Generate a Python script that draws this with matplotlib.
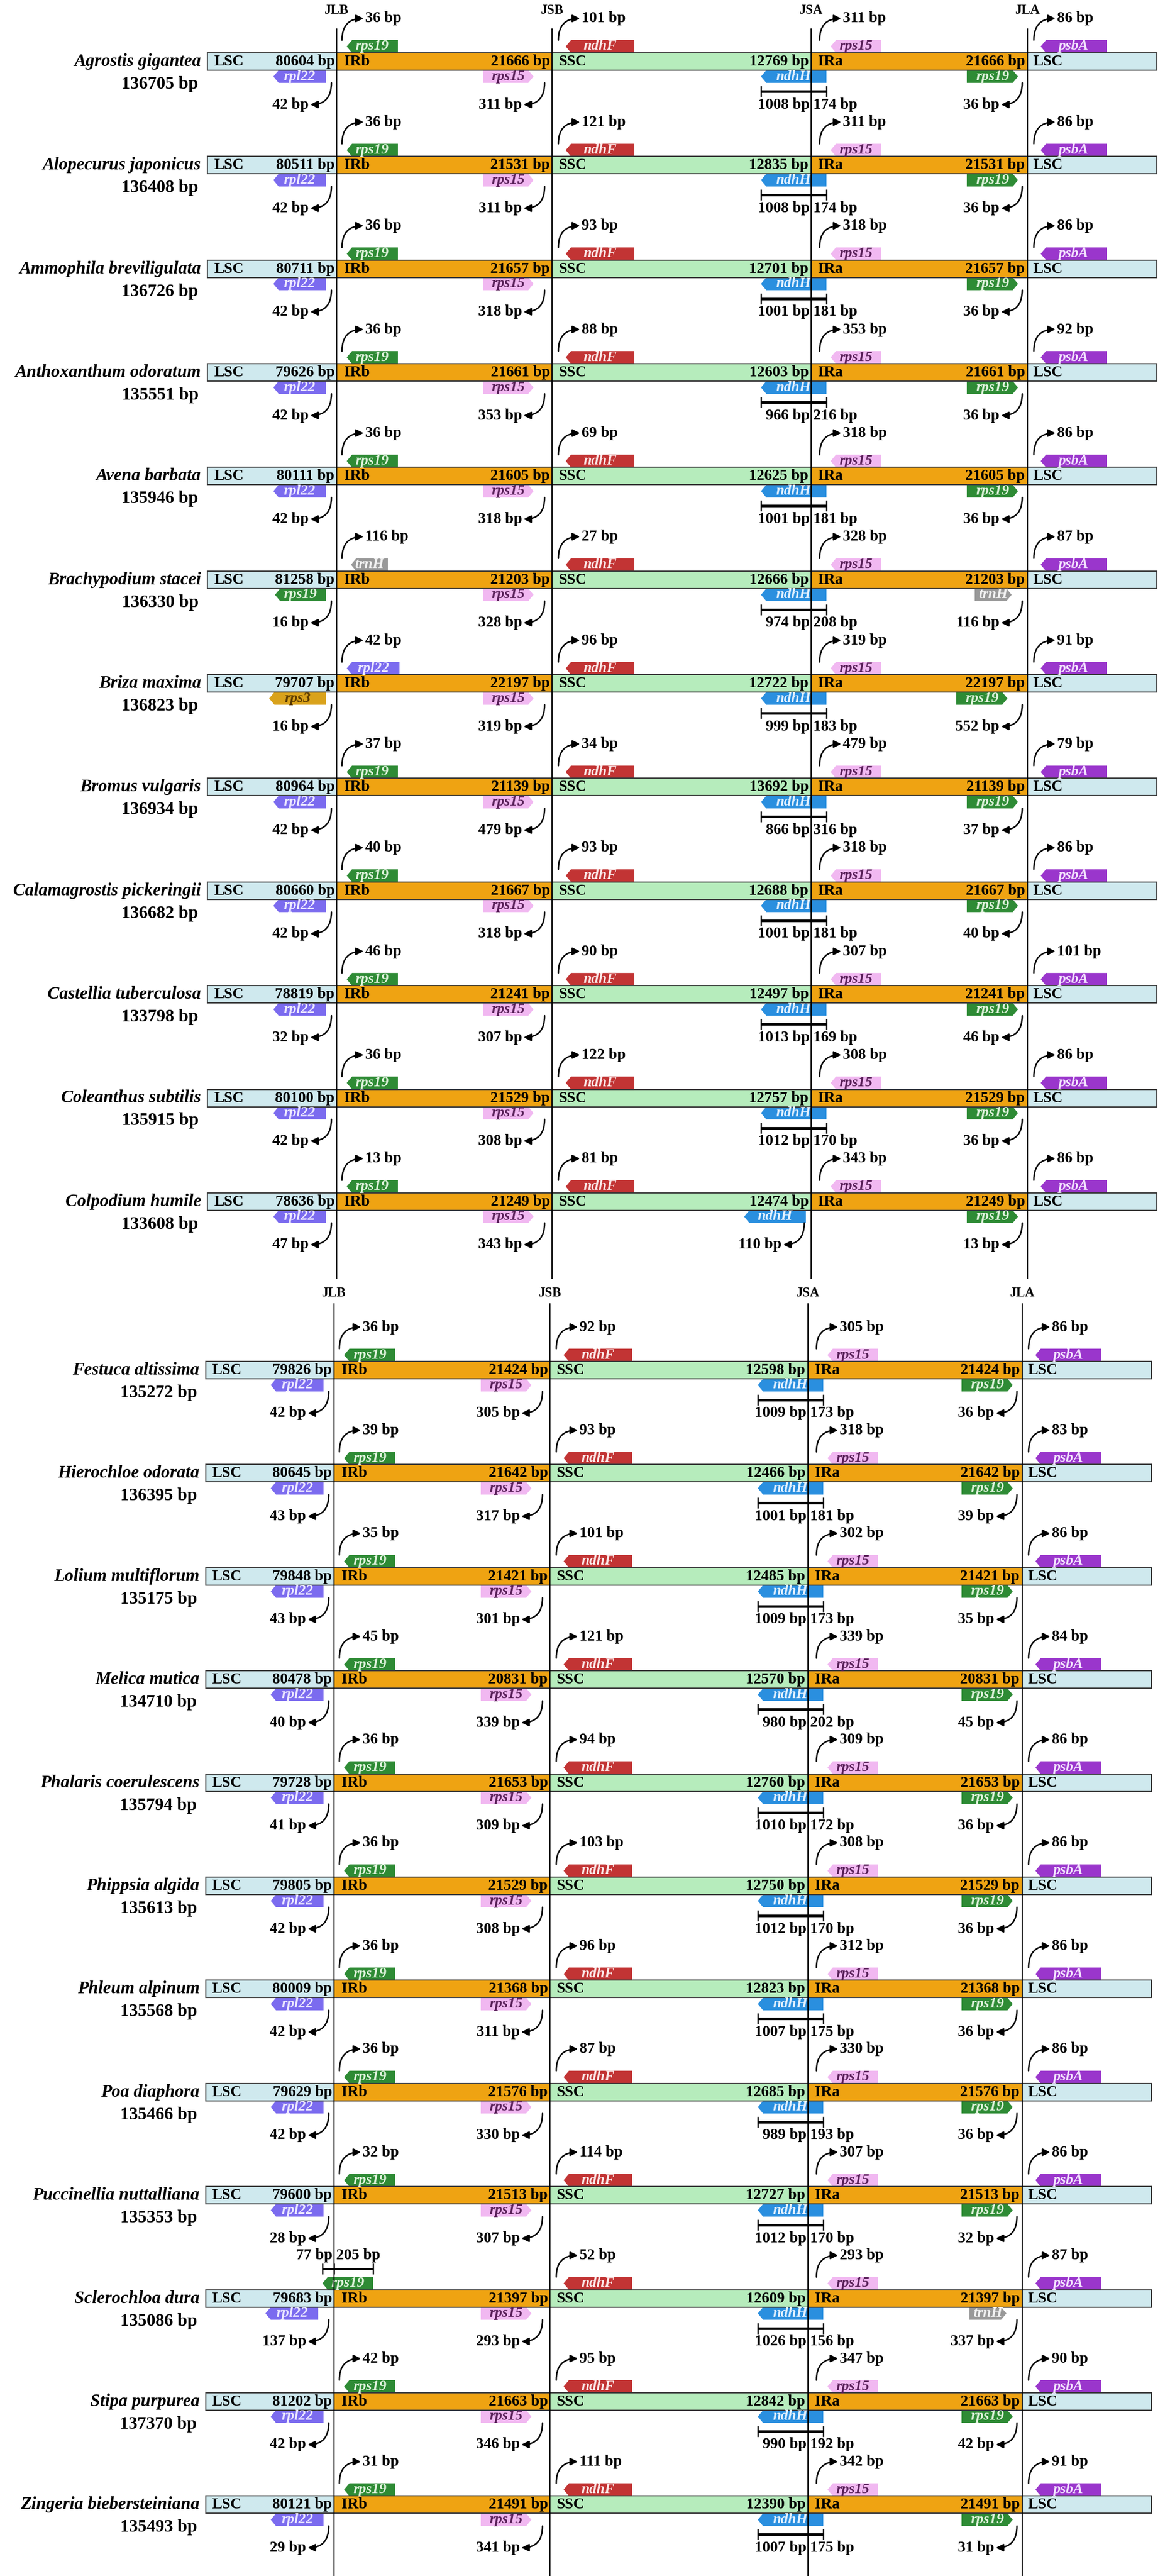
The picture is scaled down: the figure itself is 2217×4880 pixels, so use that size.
import matplotlib
matplotlib.use('Agg')
import matplotlib.pyplot as plt
from matplotlib.patches import Rectangle, Polygon, FancyArrowPatch

# ---------------- data ----------------
species = ["Agrostis gigantea", "Alopecurus japonicus", "Ammophila breviligulata",
           "Anthoxanthum odoratum", "Avena barbata", "Brachypodium stacei",
           "Briza maxima", "Bromus vulgaris", "Calamagrostis pickeringii",
           "Castellia tuberculosa", "Coleanthus subtilis", "Colpodium humile",
           "Festuca altissima", "Hierochloe odorata", "Lolium multiflorum",
           "Melica mutica", "Phalaris coerulescens", "Phippsia algida",
           "Phleum alpinum", "Poa diaphora", "Puccinellia nuttalliana",
           "Sclerochloa dura", "Stipa purpurea", "Zingeria biebersteiniana"]
genome_bp = [136705, 136408, 136726, 135551, 135946, 136330, 136823, 136934, 136682,
             133798, 135915, 133608, 135272, 136395, 135175, 134710, 135794, 135613,
             135568, 135466, 135353, 135086, 137370, 135493]
lsc_bp = [80604, 80511, 80711, 79626, 80111, 81258, 79707, 80964, 80660, 78819, 80100,
          78636, 79826, 80645, 79848, 80478, 79728, 79805, 80009, 79629, 79600, 79683,
          81202, 80121]
ir_bp = [21666, 21531, 21657, 21661, 21605, 21203, 22197, 21139, 21667, 21241, 21529,
         21249, 21424, 21642, 21421, 20831, 21653, 21529, 21368, 21576, 21513, 21397,
         21663, 21491]
ssc_bp = [12769, 12835, 12701, 12603, 12625, 12666, 12722, 13692, 12688, 12497, 12757,
          12474, 12598, 12466, 12485, 12570, 12760, 12750, 12823, 12685, 12727, 12609,
          12842, 12390]

# genes at JLB (above = IRb side, below = LSC side)
jlb_up_gene = ["rps19"] * 24
jlb_up_gene[5] = "trnH"
jlb_up_gene[6] = "rpl22"
jlb_up_bp = [36, 36, 36, 36, 36, 116, 42, 37, 40, 46, 36, 13, 36, 39, 35, 45, 36, 36,
             36, 36, 32, None, 42, 31]
jlb_up_span = {"Sclerochloa dura": (77, 205)}
jlb_dn_gene = ["rpl22"] * 24
jlb_dn_gene[5] = "rps19"
jlb_dn_gene[6] = "rps3"
jlb_dn_bp = [42, 42, 42, 42, 42, 16, 16, 42, 42, 32, 42, 47, 42, 43, 43, 40, 41, 42,
             42, 42, 28, 137, 42, 29]
# JSB: rps15 (below, IRb) and ndhF (above, SSC)
jsb_rps15_bp = [311, 311, 318, 353, 318, 328, 319, 479, 318, 307, 308, 343, 305, 317,
                301, 339, 309, 308, 311, 330, 307, 293, 346, 341]
jsb_ndhF_bp = [101, 121, 93, 88, 69, 27, 96, 34, 93, 90, 122, 81, 92, 93, 101, 121, 94,
               103, 96, 87, 114, 52, 95, 111]
# JSA: ndhH (below) split SSC / IRa, rps15 (above, IRa)
jsa_ndhH_ssc_bp = [1008, 1008, 1001, 966, 1001, 974, 999, 866, 1001, 1013, 1012, 110,
                   1009, 1001, 1009, 980, 1010, 1012, 1007, 989, 1012, 1026, 990, 1007]
jsa_ndhH_ir_bp = [174, 174, 181, 216, 181, 208, 183, 316, 181, 169, 170, None, 173, 181,
                  173, 202, 172, 170, 175, 193, 170, 156, 192, 175]
jsa_rps15_bp = [311, 311, 318, 353, 318, 328, 319, 479, 318, 307, 308, 343, 305, 318,
                302, 339, 309, 308, 312, 330, 307, 293, 347, 342]
# JLA: gene below (IRa side) and psbA above (LSC side)
jla_dn_gene = ["rps19"] * 24
jla_dn_gene[5] = "trnH"
jla_dn_gene[21] = "trnH"
jla_dn_bp = [36, 36, 36, 36, 36, 116, 552, 37, 40, 46, 36, 13, 36, 39, 35, 45, 36, 36,
             36, 36, 32, 337, 42, 31]
jla_psbA_bp = [86, 86, 86, 92, 86, 87, 91, 79, 86, 101, 86, 86, 86, 83, 86, 84, 86, 86,
               86, 86, 86, 87, 90, 91]
junction_names = ["JLB", "JSB", "JSA", "JLA"]

# ---------------- style ----------------
FONT = "Liberation Serif"
plt.rcParams['font.family'] = [FONT, 'DejaVu Serif']
plt.rcParams['font.weight'] = 'bold'

C_LSC = "#cfe9ee"
C_IR = "#efa312"
C_SSC = "#b6ecbc"
GENE_COL = {"rps19": ("#2e8b35", "#dff2dc"), "rpl22": ("#7b6bef", "#ece8ff"),
            "rps15": ("#f1b8f1", "#5a215a"), "ndhF": ("#c23434", "#fbe8e8"),
            "ndhH": ("#2a8fdf", "#e3f1ff"), "psbA": ("#9a36cc", "#f3e2ff"),
            "trnH": ("#999999", "#f2f2f2"), "rps3": ("#d9a21b", "#5a3a00")}
GENE_W = {"rps19": 97, "rpl22": 100, "trnH": 70, "rps3": 108}

FS_BAR = 21
FS_ANN = 21
FS_NAME = 24
FS_GENE = 20
FS_J = 18
BAR_H = 33
GH = 24

panels = [
    dict(rows=range(0, 12), y0=116.5, dy=196.35, J=[638, 1046, 1537, 1947],
         xl=393, xr=2192, ylab=20, ly0=55, ly1=2422),
    dict(rows=range(12, 24), y0=2595.5, dy=195.4, J=[633, 1042, 1531, 1937],
         xl=390, xr=2182, ylab=2449, ly0=2470, ly1=4880),
]

W, H = 2217, 4880
fig = plt.figure(figsize=(W / 100, H / 100), dpi=100)
ax = fig.add_axes([0, 0, 1, 1])
ax.set_xlim(0, W)
ax.set_ylim(H, 0)
ax.axis('off')


def txt(x, y, s, ha='left', fs=FS_ANN, **kw):
    ax.text(x, y, s, ha=ha, va='center', fontsize=fs, fontweight='bold',
            color=kw.pop('color', 'black'), zorder=kw.pop('zorder', 6), **kw)


def gene(x0, x1, y0, y1, name, point):
    fc, tc = GENE_COL[name]
    d = 10
    ym = (y0 + y1) / 2
    if point == 'L':
        v = [(x0, ym), (x0 + d, y0), (x1, y0), (x1, y1), (x0 + d, y1)]
    else:
        v = [(x0, y0), (x1 - d, y0), (x1, ym), (x1 - d, y1), (x0, y1)]
    ax.add_patch(Polygon(v, closed=True, fc=fc, ec='none', zorder=3))
    ax.text((x0 + x1) / 2, ym, name, ha='center', va='center', fontsize=FS_GENE,
            style='italic', fontweight='bold', color=tc, zorder=4)


def curve(p0, p1):
    a = FancyArrowPatch(p0, p1, connectionstyle="angle3,angleA=90,angleB=0",
                        arrowstyle="-|>,head_length=0.7,head_width=0.35",
                        mutation_scale=12, lw=2.0, color='black',
                        shrinkA=0, shrinkB=0, zorder=6)
    ax.add_patch(a)


def ann_up(J, top, bp):
    curve((J + 10, top - 24), (J + 51, top - 65))
    txt(J + 54, top - 65, f"{bp} bp", 'left')


def ann_dn(J, bot, bp):
    curve((J - 10, bot + 24), (J - 50, bot + 65))
    txt(J - 53, bot + 65, f"{bp} bp", 'right')


def span(xl, J, xr, y, ty, bl, br, thick=3.5):
    ax.plot([xl, xr], [y, y], color='black', lw=thick, solid_capstyle='butt', zorder=6)
    for x in (xl, J, xr):
        ax.plot([x, x], [y - 9, y + 9], color='black', lw=1.8, zorder=6)
    txt(J - 3, ty, f"{bl} bp", 'right')
    txt(J + 4, ty, f"{br} bp", 'left')


for P in panels:
    JLB, JSB, JSA, JLA = P['J']
    xl, xr = P['xl'], P['xr']
    for jx, jn in zip(P['J'], junction_names):
        ax.plot([jx, jx], [P['ly0'], P['ly1']], color='black', lw=1.6, zorder=5)
        txt(jx, P['ylab'], jn, 'center', fs=FS_J)
    for k, i in enumerate(P['rows']):
        yc = P['y0'] + k * P['dy']
        top, bot = yc - BAR_H / 2, yc + BAR_H / 2
        # segments
        for a, b, c in [(xl, JLB, C_LSC), (JLB, JSB, C_IR), (JSB, JSA, C_SSC),
                        (JSA, JLA, C_IR), (JLA, xr, C_LSC)]:
            ax.add_patch(Rectangle((a, top), b - a, BAR_H, fc=c, ec='none', zorder=2))
        ax.add_patch(Rectangle((xl, top), xr - xl, BAR_H, fc='none', ec='#3a3a3a',
                               lw=1.6, zorder=4))
        # segment texts
        txt(xl + 12, yc, "LSC", fs=FS_BAR)
        txt(JLB - 4, yc, f"{lsc_bp[i]} bp", 'right', fs=FS_BAR)
        txt(JLB + 14, yc, "IRb", fs=FS_BAR)
        txt(JSB - 4, yc, f"{ir_bp[i]} bp", 'right', fs=FS_BAR)
        txt(JSB + 12, yc, "SSC", fs=FS_BAR)
        txt(JSA - 5, yc, f"{ssc_bp[i]} bp", 'right', fs=FS_BAR)
        txt(JSA + 13, yc, "IRa", fs=FS_BAR)
        txt(JLA - 5, yc, f"{ir_bp[i]} bp", 'right', fs=FS_BAR)
        txt(JLA + 11, yc, "LSC", fs=FS_BAR)
        # species names
        ax.text(xl - 12, yc, species[i], ha='right', va='center', fontsize=FS_NAME,
                style='italic', fontweight='bold')
        ax.text(xl - 17, yc + 43, f"{genome_bp[i]} bp", ha='right', va='center',
                fontsize=FS_NAME, fontweight='bold')

        # --- JLB ---
        g = jlb_up_gene[i]
        if species[i] in jlb_up_span:
            l, r = jlb_up_span[species[i]]
            gene(JLB - 22, JLB + 74, top - GH, top, g, 'L')
            span(JLB - 22, JLB, JLB + 74, top - 40, top - 65, l, r, thick=2.5)
        else:
            w = GENE_W[g]
            x0 = JLB + (27 if g == "trnH" else 19)
            gene(x0, x0 + w, top - GH, top, g, 'L')
            ann_up(JLB, top, jlb_up_bp[i])
        g = jlb_dn_gene[i]
        w = GENE_W[g]
        x1 = JLB - (30 if jlb_dn_bp[i] > 100 else 20)
        gene(x1 - w, x1, bot, bot + GH, g, 'L')
        ann_dn(JLB, bot, jlb_dn_bp[i])

        # --- JSB ---
        gene(JSB - 131, JSB - 35, bot, bot + GH, "rps15", 'R')
        ann_dn(JSB - 4, bot, jsb_rps15_bp[i])
        gene(JSB + 26, JSB + 156, top - GH, top, "ndhF", 'L')
        ann_up(JSB + 2, top, jsb_ndhF_bp[i])

        # --- JSA ---
        if jsa_ndhH_ir_bp[i] is None:
            gene(JSA - 127, JSA - 10, bot, bot + GH, "ndhH", 'L')
            ann_dn(JSA - 3, bot, jsa_ndhH_ssc_bp[i])
        else:
            gene(JSA - 95, JSA + 29, bot, bot + GH, "ndhH", 'L')
            span(JSA - 95, JSA, JSA + 29, bot + 40, bot + 65,
                 jsa_ndhH_ssc_bp[i], jsa_ndhH_ir_bp[i])
        gene(JSA + 37, JSA + 133, top - GH, top, "rps15", 'L')
        ann_up(JSA + 6, top, jsa_rps15_bp[i])

        # --- JLA ---
        g = jla_dn_gene[i]
        w = GENE_W[g]
        b = jla_dn_bp[i]
        x1 = JLA - (18 if b < 100 else (30 if b < 400 else 38))
        gene(x1 - w, x1, bot, bot + GH, g, 'R')
        ann_dn(JLA, bot, b)
        gene(JLA + 25, JLA + 150, top - GH, top, "psbA", 'L')
        ann_up(JLA + 2, top, jla_psbA_bp[i])

fig.savefig("out.png", dpi=100, facecolor='white')
